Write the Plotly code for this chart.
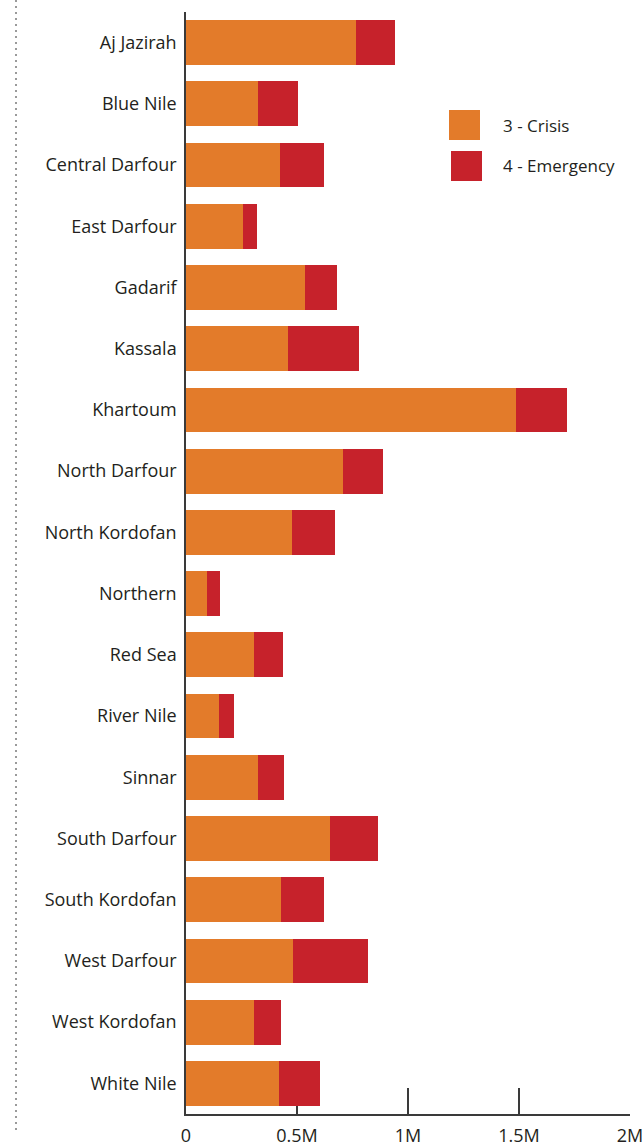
import plotly.graph_objects as go

regions = ["Aj Jazirah", "Blue Nile", "Central Darfour", "East Darfour", "Gadarif",
           "Kassala", "Khartoum", "North Darfour", "North Kordofan", "Northern",
           "Red Sea", "River Nile", "Sinnar", "South Darfour", "South Kordofan",
           "West Darfour", "West Kordofan", "White Nile"]

crisis = [764000, 323000, 422000, 257000, 536000,
          459000, 1485000, 706000, 476000, 95000,
          305000, 149000, 323000, 649000, 428000,
          482000, 305000, 418000]

emergency = [176000, 180000, 198000, 61000, 143000,
             320000, 230000, 180000, 194000, 57000,
             130000, 66000, 117000, 214000, 192000,
             336000, 122000, 186000]

tick_vals = [0, 500000, 1000000, 1500000, 2000000]
tick_text = ["0", "0.5M", "1M", "1.5M", "2M"]

series_names = ["3 - Crisis", "4 - Emergency"]
series_colors = ["#E37B2A", "#C6222B"]

W, H = 642, 1146
ML, MR, MT, MB = 186, 12, 12, 32
PW, PH = W - ML - MR, H - MT - MB


def px_x(px):
    return (px - ML) / PW


def px_y(py):
    return (H - MB - py) / PH


fig = go.Figure()
for name, vals, col in zip(series_names, [crisis, emergency], series_colors):
    fig.add_trace(go.Bar(
        y=regions, x=vals, name=name, orientation="h",
        marker=dict(color=col, line=dict(width=0)),
        showlegend=False,
    ))

FONT = "Open Sans"
shapes = []
annotations = []
# legend swatches and labels
leg = [(449, 110, series_colors[0], series_names[0], 125),
       (451, 151, series_colors[1], series_names[1], 166)]
for x0, y0, col, name, ty in leg:
    shapes.append(dict(type="rect", xref="paper", yref="paper",
                       x0=px_x(x0), x1=px_x(x0 + 31), y0=px_y(y0), y1=px_y(y0 + 30),
                       fillcolor=col, line=dict(width=0)))
    annotations.append(dict(xref="paper", yref="paper", x=px_x(501), y=px_y(ty),
                            xanchor="left", yanchor="middle", showarrow=False,
                            text=name, font=dict(family=FONT, size=17, color="#231F20")))
# dotted vertical rule at the left
shapes.append(dict(type="line", xref="paper", yref="paper",
                   x0=px_x(16), x1=px_x(16), y0=px_y(0), y1=px_y(1132),
                   line=dict(color="#9A9A9A", width=2, dash="2px,4px")))

fig.update_layout(
    width=W, height=H,
    margin=dict(l=ML, r=MR, t=MT, b=MB, autoexpand=False),
    barmode="stack", bargap=0.267,
    plot_bgcolor="white", paper_bgcolor="white",
    font=dict(family=FONT, color="#231F20", size=18),
    shapes=shapes, annotations=annotations,
    xaxis=dict(range=[0, 2000000], tickvals=tick_vals, ticktext=tick_text,
               showgrid=False, zeroline=False, showline=True, linecolor="#3A3A3A",
               linewidth=1.5, ticks="inside", ticklen=26, tickwidth=1.5,
               tickcolor="#3A3A3A", layer="below traces", automargin=False,
               tickfont=dict(size=18), ticklabelstandoff=5,
               ticklabeloverflow="allow", fixedrange=True),
    yaxis=dict(autorange="reversed", showgrid=False, zeroline=False, showline=True,
               linecolor="#3A3A3A", linewidth=1.5, ticks="", layer="below traces",
               automargin=False, tickfont=dict(size=18), ticklabelstandoff=4,
               fixedrange=True),
)

fig.write_html("out.html", config={"displayModeBar": False},
               post_script="document.body.style.margin='0';")
